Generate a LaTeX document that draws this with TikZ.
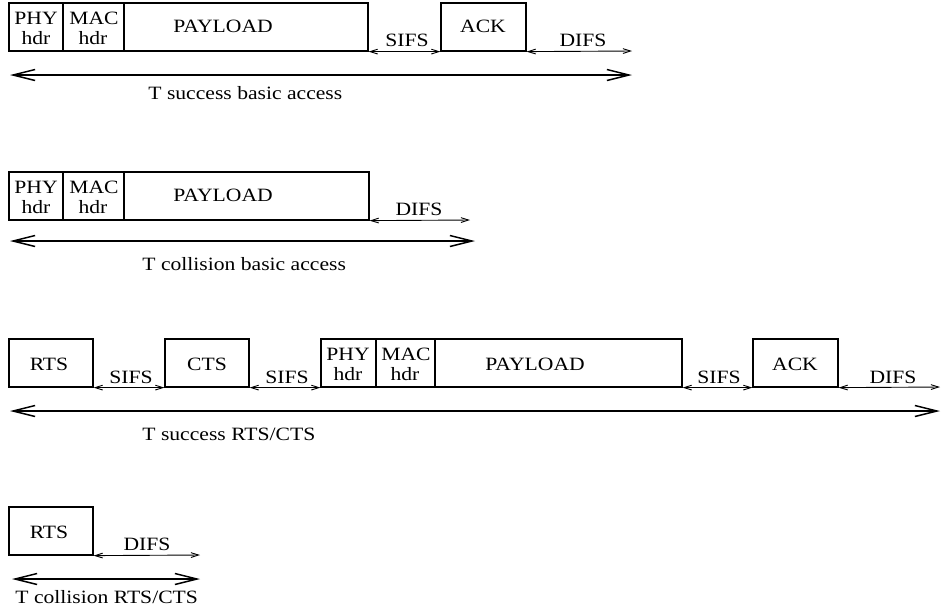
\documentclass[tikz,border=0pt]{standalone}
\usepackage{fontspec}
\setmainfont[FakeStretch=1.15]{Liberation Serif}
\usetikzlibrary{arrows.meta,fit}
\begin{document}
\begin{tikzpicture}[x=0.5pt,y=-0.5pt,
  frame/.style={draw,line width=0.6pt,inner sep=0pt},
  txt/.style={inner sep=0pt,anchor=base,font=\fontsize{9.4}{11}\selectfont},
  txtl/.style={txt,anchor=base west},
  gap/.style={line width=0.45pt,{Straight Barb[length=3.8pt,width=2.4pt]}-{Straight Barb[length=3.8pt,width=2.4pt]}},
  span/.style={line width=0.75pt,{Straight Barb[length=11pt,width=5.5pt]}-{Straight Barb[length=11pt,width=5.5pt]}}]
\useasboundingbox (0,0) rectangle (941,612);

% ---------- Row 1: success basic access ----------
\node[frame,fit={(9,3)(63,51)}] (phyA) {};
\node[frame,fit={(63,3)(124,51)}] (macA) {};
\node[frame,fit={(124,3)(368,51)}] (payA) {};
\node[frame,fit={(441,3)(526,51)}] (ackA) {};
\coordinate (difsAe) at (632,51);
\node[txt] (phyAt) at (36,24) {PHY};
\node[txt] (phyAb) at (36,44) {hdr};
\node[txt] (macAt) at (94,24) {MAC};
\node[txt] (macAb) at (93,44) {hdr};
\node[txtl] (payAt) at (173,32) {PAYLOAD};
\node[txt] (ackAt) at (483,32) {ACK};
\draw[gap] (payA.south east) -- (ackA.south west);
\node[txt] (sifsA) at (407,46) {SIFS};
\draw[gap] (ackA.south east) -- (difsAe);
\node[txt] (difsA) at (583,46) {DIFS};
\coordinate (spA1) at (10,75);
\coordinate (spA2) at (632,75);
\draw[span] (spA1) -- (spA2);
\node[txtl] (labA) at (148,99) {T success basic access};

% ---------- Row 2: collision basic access ----------
\node[frame,fit={(9,172)(63,220)}] (phyB) {};
\node[frame,fit={(63,172)(124,220)}] (macB) {};
\node[frame,fit={(124,172)(369,220)}] (payB) {};
\coordinate (difsBe) at (470,220);
\node[txt] (phyBt) at (36,193) {PHY};
\node[txt] (phyBb) at (36,213) {hdr};
\node[txt] (macBt) at (94,193) {MAC};
\node[txt] (macBb) at (93,213) {hdr};
\node[txtl] (payBt) at (173,201) {PAYLOAD};
\draw[gap] (payB.south east) -- (difsBe);
\node[txt] (difsB) at (419,215) {DIFS};
\coordinate (spB1) at (10,241);
\coordinate (spB2) at (475,241);
\draw[span] (spB1) -- (spB2);
\node[txtl] (labB) at (142,270) {T collision basic access};

% ---------- Row 3: success RTS/CTS ----------
\node[frame,fit={(9,339)(93,387)}] (rtsC) {};
\node[frame,fit={(165,339)(249,387)}] (ctsC) {};
\node[frame,fit={(321,339)(376,387)}] (phyC) {};
\node[frame,fit={(376,339)(435,387)}] (macC) {};
\node[frame,fit={(435,339)(682,387)}] (payC) {};
\node[frame,fit={(753,339)(838,387)}] (ackC) {};
\coordinate (difsCe) at (940,387);
\node[txt] (rtsCt) at (49,370) {RTS};
\node[txt] (ctsCt) at (207,370) {CTS};
\node[txt] (phyCt) at (348,360) {PHY};
\node[txt] (phyCb) at (348,380) {hdr};
\node[txt] (macCt) at (406,360) {MAC};
\node[txt] (macCb) at (405,380) {hdr};
\node[txtl] (payCt) at (485,370) {PAYLOAD};
\node[txt] (ackCt) at (795,370) {ACK};
\draw[gap] (rtsC.south east) -- (ctsC.south west);
\node[txt] (sifsC1) at (131,383) {SIFS};
\draw[gap] (ctsC.south east) -- (phyC.south west);
\node[txt] (sifsC2) at (287,383) {SIFS};
\draw[gap] (payC.south east) -- (ackC.south west);
\node[txt] (sifsC3) at (719,383) {SIFS};
\draw[gap] (ackC.south east) -- (difsCe);
\node[txt] (difsC) at (893,383) {DIFS};
\coordinate (spC1) at (10,411);
\coordinate (spC2) at (940,411);
\draw[span] (spC1) -- (spC2);
\node[txtl] (labC) at (142,440) {T success RTS/CTS};

% ---------- Row 4: collision RTS/CTS ----------
\node[frame,fit={(9,507)(93,555)}] (rtsD) {};
\coordinate (difsDe) at (200,555);
\node[txt] (rtsDt) at (49,538) {RTS};
\draw[gap] (rtsD.south east) -- (difsDe);
\node[txt] (difsD) at (147,550) {DIFS};
\coordinate (spD1) at (12,579);
\coordinate (spD2) at (200,579);
\draw[span] (spD1) -- (spD2);
\node[txtl] (labD) at (15,603) {T collision RTS/CTS};
\end{tikzpicture}
\end{document}
